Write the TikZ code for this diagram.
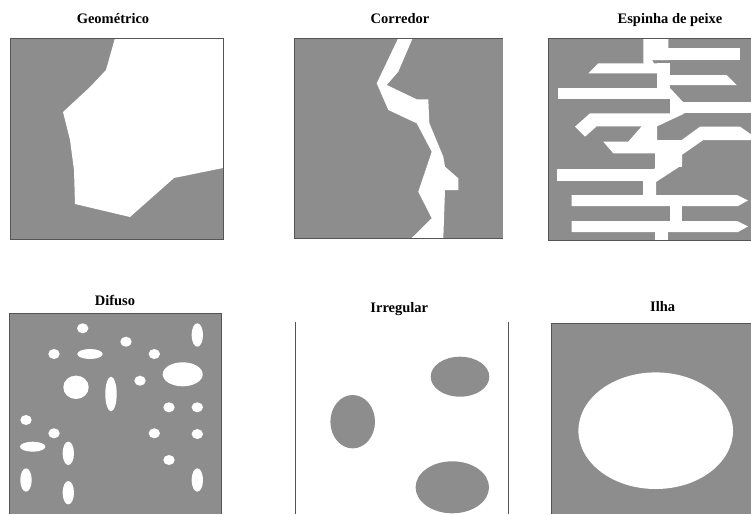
\documentclass[tikz,border=0pt]{standalone}
\usepackage{fontspec}
\setmainfont{Liberation Serif}
\definecolor{fieldgray}{RGB}{141,141,141}
\definecolor{edgegray}{RGB}{85,85,85}
\begin{document}
\begin{tikzpicture}[x=1pt,y=-1pt,
  fieldbox/.style={fill=fieldgray,draw=none},
  frame/.style={draw=edgegray,line width=0.9pt},
  hole/.style={fill=white,draw=none},
  patch/.style={fill=fieldgray,draw=none},
  caption/.style={font=\bfseries\fontsize{14.5}{16}\selectfont,inner sep=0pt,anchor=base}]

\useasboundingbox (0,0) rectangle (751,514);

% ---------- Geometrico ----------
\node[caption] (tgeo) at (113,23.5) {Geométrico};
\fill[fieldbox] (10,38) rectangle (223,239);
\fill[hole] (115,38) -- (106,70) -- (90,87) -- (63,112) -- (70,140) -- (74,170)
  -- (75,204) -- (130,217) -- (174,178) -- (223,168) -- (223,38) -- cycle;
\draw[frame] (10,38) rectangle (223,239);

% ---------- Corredor ----------
\node[caption] (tcor) at (400,23.5) {Corredor};
\fill[fieldbox] (294,38) rectangle (503,238);
\fill[hole] (398.3,38) -- (412.7,38) -- (398.3,71.7) -- (386.7,85) -- (416.7,99.3)
  -- (428.3,99.3) -- (429.3,123) -- (443.3,156.7) -- (445,166.7) -- (458.3,178.3)
  -- (458.3,190) -- (445,190) -- (443.3,238) -- (411.7,238) -- (431.7,218.3)
  -- (418.3,191.7) -- (426.7,166.7) -- (431.7,151.7) -- (416.7,123.3)
  -- (388.3,110) -- (376.7,83.3) -- cycle;
\draw[frame] (503,38) -- (294,38) -- (294,238) -- (503,238);

% ---------- Espinha de peixe ----------
\node[caption] (tesp) at (670,23.5) {Espinha de peixe};
\fill[fieldbox] (548,38) rectangle (751,240);
\begin{scope}
  \clip (548,38) rectangle (751,240);
  % spine, upper part
  \fill[hole] (643.3,38) -- (668.3,38) -- (668.3,60) -- (652,60) -- (660,74)
    -- (660,88) -- (657,88) -- (657,73) -- (643.3,63) -- cycle;
  \fill[hole] (657,63) rectangle (670,90);
  \fill[hole] (657,88) -- (670,88) -- (683,102) -- (683,114) -- (670,114) -- (670,99) -- cycle;
  % branches, upper part
  \fill[hole] (668,48.3) rectangle (740,60);
  \fill[hole] (598.3,63.3) -- (657,63.3) -- (657,73.3) -- (588.3,73.3) -- cycle;
  \fill[hole] (660,75) -- (726.7,75) -- (736.7,85) -- (660,85) -- cycle;
  \fill[hole] (557.7,88.3) rectangle (670,99.3);
  \fill[hole] (672,102) rectangle (751,113.3);
  % left slanted branch with its bent end
  \fill[hole] (590,113.3) -- (685,113.3) -- (657,126.3) -- (596.7,126.3)
    -- (585,136.7) -- (575,126.7) -- cycle;
  % spine, middle part
  \fill[hole] (641.7,125) -- (657,125) -- (657,142) -- (628,142) -- (641.7,126.3) -- cycle;
  \fill[hole] (603.3,141.7) -- (657,141.7) -- (657,153.3) -- (613.3,153.3) -- cycle;
  \fill[hole] (655,140) rectangle (682,167);
  % rising branch on the right
  \fill[hole] (681.7,140) -- (700,126.7) -- (740,126.7) -- (751,134.3) -- (751,140)
    -- (703.3,140) -- (681.7,155) -- cycle;
  % spine, lower part
  \fill[hole] (655,155) -- (682,155) -- (682,165) -- (656,182) -- (656,196)
    -- (643,196) -- (643,181) -- (655,168) -- cycle;
  \fill[hole] (557,168.5) rectangle (657,181);
  \fill[hole] (571.7,195) -- (737,195) -- (748,200.5) -- (738,206) -- (571.7,206) -- cycle;
  \fill[hole] (670,205) rectangle (682,222);
  \fill[hole] (571.7,221) -- (737,221) -- (748,226.5) -- (738,232) -- (571.7,232) -- cycle;
  \fill[hole] (655,231) rectangle (668,240);
\end{scope}
\draw[frame] (751,38) -- (548,38) -- (548,240) -- (751,240);

% ---------- Difuso ----------
\node[caption] (tdif) at (115,305) {Difuso};
\fill[fieldbox] (9.5,313.5) rectangle (221.7,514);
\foreach \cx/\cy/\rx/\ry in {
   82.7/328.3/5.7/5, 126/341.7/5.7/5, 197.3/335/5.7/11.7,
   54/354/5.7/5, 90/354/12.7/5, 154.3/354/5.7/5,
   182.7/374.3/20/12, 76/387.3/12.7/11.7, 111/394/5.7/17.3, 140/380.7/5.7/5,
   169/407.3/5.7/5, 197.3/407.3/5.7/5, 26/420/5.7/5,
   54/433.3/5.7/5, 154.3/433.3/5.7/5, 197.3/434/5.7/5,
   32.7/446.7/12.7/5, 68.3/453.3/5.7/11.7, 169/460/5.7/5,
   26/480/5.7/11.7, 68.3/492.7/5.7/11.7, 197.3/480/5.7/11.7}
  \fill[hole] (\cx,\cy) ellipse [x radius=\rx, y radius=\ry];
\draw[frame] (9.5,514) -- (9.5,313.5) -- (221.7,313.5) -- (221.7,514);

% ---------- Irregular ----------
\node[caption] (tirr) at (399.3,312.3) {Irregular};
\fill[patch] (460,376.7) ellipse [x radius=29.3, y radius=20];
\fill[patch] (352.7,421.7) ellipse [x radius=22.3, y radius=26.7];
\fill[patch] (452.3,487.3) ellipse [x radius=36.7, y radius=26];
\draw[frame] (295,321.7) -- (295,514);
\draw[frame] (508.3,321.7) -- (508.3,514);

% ---------- Ilha ----------
\node[caption] (tilh) at (662.7,311) {Ilha};
\fill[fieldbox] (551,323) rectangle (751,514);
\fill[hole] (655.7,430.7) ellipse [x radius=77.3, y radius=58.3];
\draw[frame] (551,514) -- (551,323) -- (751,323);

\end{tikzpicture}
\end{document}
